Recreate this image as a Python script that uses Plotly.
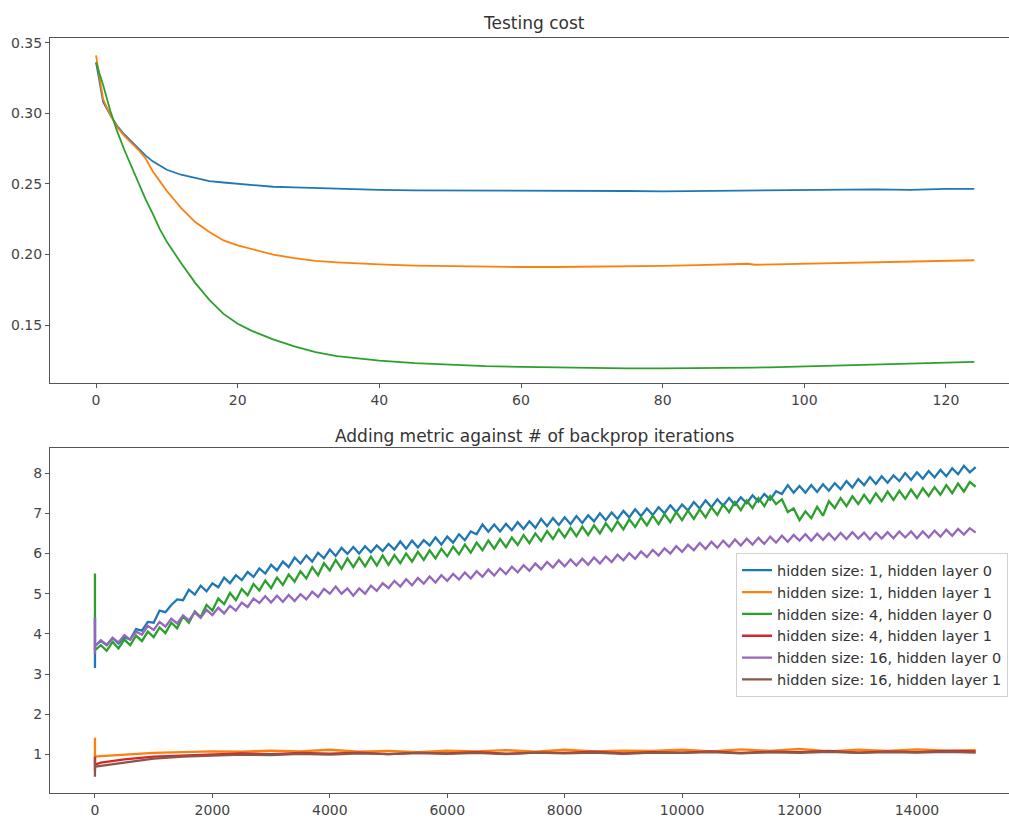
import plotly.graph_objects as go

# ---------------- Top panel: Testing cost ----------------
top_x = [0, 1, 2, 3, 4, 5, 6, 7, 8, 9, 10, 12, 14, 16, 18, 20, 22, 25, 28, 31, 34, 37, 40,
         45, 50, 55, 60, 65, 70, 75, 80, 85, 90, 92, 93, 95, 100, 105, 110, 115, 120, 124]
cost_h1 = [0.336, 0.308, 0.299, 0.291, 0.285, 0.280, 0.275, 0.270, 0.266, 0.263, 0.260, 0.2565,
           0.254, 0.252, 0.251, 0.250, 0.249, 0.248, 0.2475, 0.247, 0.2465, 0.246, 0.2458,
           0.2455, 0.2455, 0.2455, 0.2455, 0.2452, 0.2455, 0.245, 0.2448, 0.245, 0.2452, 0.2455,
           0.2455, 0.2455, 0.2458, 0.246, 0.2462, 0.2458, 0.2465, 0.2465]
cost_h4 = [0.341, 0.310, 0.299, 0.290, 0.284, 0.279, 0.274, 0.268, 0.259, 0.252, 0.245, 0.233,
           0.223, 0.216, 0.210, 0.2065, 0.204, 0.200, 0.1975, 0.1955, 0.1945, 0.1935, 0.193,
           0.1922, 0.1918, 0.1915, 0.1912, 0.1912, 0.1913, 0.1916, 0.192, 0.1925, 0.193, 0.1935,
           0.1928, 0.193, 0.1935, 0.194, 0.1945, 0.195, 0.1955, 0.196]
cost_h16 = [0.336, 0.320, 0.302, 0.287, 0.274, 0.262, 0.250, 0.239, 0.229, 0.218, 0.209, 0.194,
            0.180, 0.168, 0.158, 0.151, 0.146, 0.140, 0.135, 0.131, 0.1282, 0.1265, 0.125,
            0.1232, 0.122, 0.121, 0.1205, 0.120, 0.1198, 0.1195, 0.1195, 0.1195, 0.120, 0.120,
            0.120, 0.1202, 0.1208, 0.1215, 0.1222, 0.123, 0.1235, 0.124]

# ---------------- Bottom panel: Adding metric ----------------
it_x = [0, 0, 0] + list(range(100, 15001, 100))

m_h1_l0 = [3.15, 4.40, 3.70,
           3.83, 3.72, 3.90, 3.76, 3.92, 3.86, 4.12, 4.08, 4.30, 4.28,
           4.58, 4.54, 4.72, 4.86, 4.84, 5.10, 4.98, 5.20, 5.06, 5.26,
           5.16, 5.40, 5.26, 5.46, 5.34, 5.54, 5.42, 5.63, 5.50, 5.72,
           5.58, 5.80, 5.66, 5.90, 5.75, 5.95, 5.80, 6.02, 5.88, 6.10,
           5.94, 6.14, 5.99, 6.16, 6.00, 6.18, 6.03, 6.20, 6.06, 6.24,
           6.10, 6.30, 6.12, 6.32, 6.15, 6.33, 6.20, 6.40, 6.22, 6.42,
           6.27, 6.48, 6.33, 6.55, 6.48, 6.72, 6.54, 6.72, 6.55, 6.74,
           6.58, 6.78, 6.61, 6.80, 6.64, 6.86, 6.68, 6.88, 6.71, 6.90,
           6.73, 6.93, 6.76, 6.95, 6.80, 7.00, 6.83, 7.02, 6.86, 7.06,
           6.90, 7.10, 6.93, 7.12, 6.96, 7.15, 7.00, 7.20, 7.03, 7.22,
           7.07, 7.28, 7.12, 7.32, 7.15, 7.35, 7.19, 7.38, 7.21, 7.40,
           7.25, 7.45, 7.29, 7.48, 7.34, 7.55, 7.48, 7.70, 7.51, 7.68,
           7.51, 7.70, 7.53, 7.72, 7.56, 7.75, 7.60, 7.80, 7.64, 7.85,
           7.70, 7.90, 7.73, 7.92, 7.76, 7.94, 7.80, 8.00, 7.83, 8.02,
           7.86, 8.05, 7.89, 8.08, 7.92, 8.12, 7.97, 8.18, 8.02, 8.15]
m_h4_l0 = [3.70, 5.50, 3.60,
           3.72, 3.58, 3.80, 3.64, 3.86, 3.72, 3.96, 3.82, 4.06, 3.92,
           4.16, 4.02, 4.28, 4.14, 4.44, 4.28, 4.56, 4.42, 4.72, 4.58,
           4.88, 4.74, 5.02, 4.84, 5.12, 4.96, 5.24, 5.08, 5.33, 5.14,
           5.40, 5.22, 5.48, 5.30, 5.56, 5.38, 5.66, 5.46, 5.76, 5.58,
           5.84, 5.62, 5.88, 5.66, 5.90, 5.68, 5.92, 5.70, 5.95, 5.72,
           5.96, 5.76, 6.00, 5.80, 6.04, 5.84, 6.08, 5.88, 6.12, 5.93,
           6.17, 5.98, 6.22, 6.02, 6.27, 6.08, 6.32, 6.12, 6.36, 6.16,
           6.40, 6.21, 6.46, 6.26, 6.50, 6.31, 6.56, 6.36, 6.60, 6.40,
           6.64, 6.43, 6.67, 6.46, 6.70, 6.50, 6.75, 6.56, 6.80, 6.60,
           6.85, 6.66, 6.90, 6.70, 6.94, 6.73, 6.98, 6.78, 7.03, 6.83,
           7.07, 6.86, 7.10, 6.90, 7.15, 6.96, 7.22, 7.03, 7.28, 7.08,
           7.32, 7.13, 7.38, 7.18, 7.43, 7.23, 7.35, 7.03, 7.12, 6.83,
           7.05, 6.88, 7.16, 6.94, 7.30, 7.13, 7.38, 7.18, 7.42, 7.23,
           7.46, 7.26, 7.50, 7.30, 7.54, 7.33, 7.56, 7.36, 7.59, 7.38,
           7.62, 7.43, 7.65, 7.46, 7.70, 7.50, 7.74, 7.54, 7.78, 7.66]
m_h16_l0 = [3.50, 4.40, 3.70,
            3.84, 3.73, 3.90, 3.79, 3.97, 3.86, 4.06, 3.98, 4.20, 4.10,
            4.30, 4.18, 4.38, 4.26, 4.46, 4.34, 4.53, 4.40, 4.60, 4.47,
            4.65, 4.51, 4.70, 4.58, 4.78, 4.67, 4.88, 4.77, 4.94, 4.78,
            4.95, 4.80, 4.97, 4.82, 4.99, 4.86, 5.05, 4.92, 5.12, 5.00,
            5.18, 5.00, 5.13, 4.95, 5.13, 5.00, 5.20, 5.07, 5.26, 5.14,
            5.32, 5.18, 5.36, 5.21, 5.39, 5.25, 5.43, 5.28, 5.46, 5.32,
            5.49, 5.35, 5.53, 5.38, 5.56, 5.42, 5.60, 5.45, 5.63, 5.49,
            5.67, 5.53, 5.71, 5.57, 5.75, 5.61, 5.79, 5.65, 5.83, 5.68,
            5.85, 5.70, 5.87, 5.72, 5.90, 5.75, 5.93, 5.79, 5.97, 5.83,
            6.01, 5.87, 6.05, 5.91, 6.09, 5.95, 6.13, 6.00, 6.18, 6.04,
            6.22, 6.08, 6.26, 6.11, 6.29, 6.14, 6.32, 6.17, 6.35, 6.20,
            6.37, 6.22, 6.39, 6.24, 6.42, 6.27, 6.44, 6.29, 6.46, 6.32,
            6.48, 6.32, 6.49, 6.34, 6.50, 6.34, 6.51, 6.36, 6.53, 6.37,
            6.52, 6.35, 6.52, 6.37, 6.53, 6.38, 6.55, 6.40, 6.55, 6.38,
            6.55, 6.40, 6.57, 6.42, 6.59, 6.44, 6.61, 6.47, 6.63, 6.52]

low_x = [0, 0, 0, 100, 300] + list(range(500, 15001, 500))
m_h1_l1 = [0.80, 1.42, 0.95, 0.96, 0.98,
           0.99, 1.04, 1.06, 1.08, 1.07, 1.10, 1.08, 1.12, 1.07, 1.09,
           1.06, 1.10, 1.08, 1.11, 1.07, 1.12, 1.08, 1.10, 1.09, 1.12,
           1.08, 1.13, 1.09, 1.14, 1.08, 1.12, 1.09, 1.13, 1.10, 1.11]
m_h4_l1 = [0.60, 0.95, 0.75, 0.80, 0.84,
           0.88, 0.95, 0.98, 1.00, 1.03, 1.01, 1.04, 1.02, 1.05, 1.01,
           1.04, 1.03, 1.06, 1.02, 1.05, 1.04, 1.07, 1.03, 1.06, 1.05,
           1.08, 1.04, 1.07, 1.06, 1.09, 1.05, 1.08, 1.06, 1.09, 1.08]
m_h16_l1 = [0.45, 0.90, 0.70, 0.72, 0.76,
            0.80, 0.90, 0.95, 0.98, 1.00, 0.99, 1.02, 1.00, 1.03, 1.01,
            1.04, 1.02, 1.04, 1.01, 1.05, 1.03, 1.05, 1.02, 1.05, 1.04,
            1.06, 1.03, 1.06, 1.04, 1.07, 1.04, 1.06, 1.05, 1.07, 1.05]

labels = ["hidden size: 1, hidden layer 0", "hidden size: 1, hidden layer 1",
          "hidden size: 4, hidden layer 0", "hidden size: 4, hidden layer 1",
          "hidden size: 16, hidden layer 0", "hidden size: 16, hidden layer 1"]
colors = ["#1f77b4", "#ff7f0e", "#2ca02c", "#d62728", "#9467bd", "#8c564b"]

top_xticks = [0, 20, 40, 60, 80, 100, 120]
top_yticks = [0.15, 0.20, 0.25, 0.30, 0.35]
bot_xticks = [0, 2000, 4000, 6000, 8000, 10000, 12000, 14000]
bot_yticks = [1, 2, 3, 4, 5, 6, 7, 8]

W, H = 1009, 818
FONT = "DejaVu Sans"

fig = go.Figure()

for ys, c in zip([cost_h1, cost_h4, cost_h16], [colors[0], colors[1], colors[2]]):
    fig.add_trace(go.Scatter(x=top_x, y=ys, mode="lines", line=dict(color=c, width=1.8),
                             showlegend=False, xaxis="x", yaxis="y"))

bottom_series = [(it_x, m_h1_l0), (low_x, m_h1_l1), (it_x, m_h4_l0),
                 (low_x, m_h4_l1), (it_x, m_h16_l0), (low_x, m_h16_l1)]
for (xs, ys), name, c in zip(bottom_series, labels, colors):
    fig.add_trace(go.Scatter(x=xs, y=ys, mode="lines", name=name,
                             line=dict(color=c, width=2.3), xaxis="x2", yaxis="y2"))

axis_common = dict(showline=True, linecolor="#555555", linewidth=1, ticks="outside",
                   ticklen=4, tickcolor="#555555", showgrid=False, zeroline=False,
                   tickfont=dict(family=FONT, size=14, color="#444444"))

fig.update_layout(
    width=W, height=H,
    margin=dict(l=0, r=0, t=0, b=0),
    paper_bgcolor="white", plot_bgcolor="white",
    font=dict(family=FONT),
    xaxis=dict(domain=[50 / W, 1.0], range=[-6.5, 128.9], tickvals=top_xticks,
               ticktext=[str(v) for v in top_xticks], mirror=True, anchor="y", **axis_common),
    yaxis=dict(domain=[1 - 383 / H, 1 - 35 / H], range=[0.1093, 0.3535],
               tickvals=top_yticks, ticktext=["%.2f" % v for v in top_yticks], anchor="x",
               **axis_common),
    xaxis2=dict(domain=[50 / W, 1.0], range=[-766, 15568], tickvals=bot_xticks,
                ticktext=[str(v) for v in bot_xticks], mirror=True, anchor="y2", **axis_common),
    yaxis2=dict(domain=[1 - 797 / H, 1 - 449 / H], range=[0.04, 8.62],
                tickvals=bot_yticks, ticktext=[str(v) for v in bot_yticks], anchor="x2",
                **axis_common),
    legend=dict(x=736 / W, y=1 - 555 / H, xanchor="left", yanchor="top",
                bgcolor="rgba(255,255,255,0.85)", bordercolor="#d0d0d0", borderwidth=1,
                font=dict(family=FONT, size=14.5, color="#333333"), itemwidth=30,
                tracegroupgap=0),
    annotations=[
        dict(text="Testing cost", x=534 / W, y=1 - 20 / H, xref="paper", yref="paper",
             xanchor="center", yanchor="middle", showarrow=False,
             font=dict(family=FONT, size=17, color="#333333")),
        dict(text="Adding metric against # of backprop iterations", x=534 / W, y=1 - 437 / H,
             xref="paper", yref="paper", xanchor="center", yanchor="middle", showarrow=False,
             font=dict(family=FONT, size=17, color="#333333")),
    ],
)

fig.write_html("out.html",
               config={"displayModeBar": False},
               post_script="document.body.style.margin='0px';"
                           "document.body.style.overflow='hidden';")
